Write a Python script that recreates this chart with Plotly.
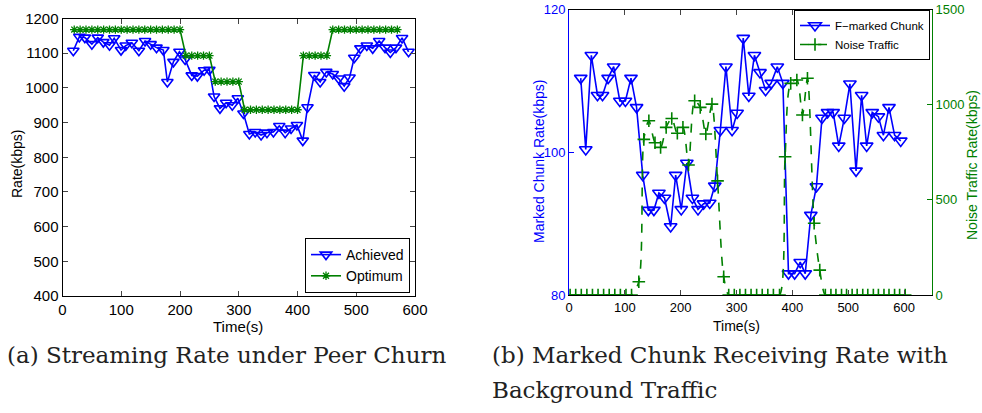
import plotly.graph_objects as go

# ---------------- data: (a) Streaming rate under peer churn ----------------
achieved_time = [18.4, 28.6, 38, 50, 60, 69.5, 80, 88, 99.6, 107.6,
                 118, 130, 140.5, 150, 160, 171.7, 178.5, 188.8, 199, 208.7,
                 220, 229.6, 241, 250, 258, 268, 278.5, 289, 298.4, 308,
                 318, 328, 338, 348, 359, 369, 379, 389, 399, 409,
                 417, 428.5, 438.6, 449, 460, 470, 479.5, 488.6, 496.6, 507,
                 518, 528, 539, 549, 558, 567.6, 578, 589]
achieved_rate = [1107, 1147, 1145, 1126, 1145, 1132, 1123, 1143, 1109, 1122,
                 1130, 1107, 1135, 1126, 1116, 1109, 1017, 1075, 1104, 1082,
                 1036, 1034, 1051, 1052, 975, 941, 957, 950, 970, 926,
                 867, 873, 864, 871, 873, 890, 871, 883, 893, 848,
                 944, 1037, 1017, 1046, 1040, 1027, 1005, 1030, 1087, 1114,
                 1122, 1114, 1135, 1116, 1102, 1116, 1144, 1104]

optimum_time = [20, 30, 40, 50, 60, 70, 80, 90, 100, 110, 120, 130, 140, 150, 160, 170, 180, 190, 200,
                210, 220, 230, 240, 250,
                260, 270, 280, 290, 300,
                310, 320, 330, 340, 350, 360, 370, 380, 390, 400,
                410, 420, 430, 440, 450,
                460, 470, 480, 490, 500, 510, 520, 530, 540, 550, 560, 570]
optimum_rate = [1168, 1168, 1168, 1168, 1168, 1168, 1168, 1168, 1168, 1168, 1168, 1168, 1168, 1168, 1168, 1168, 1168, 1168, 1168,
                1093, 1093, 1093, 1093, 1093,
                1018, 1018, 1018, 1018, 1018,
                937, 937, 937, 937, 937, 937, 937, 937, 937, 937,
                1093, 1093, 1093, 1093, 1093,
                1168, 1168, 1168, 1168, 1168, 1168, 1168, 1168, 1168, 1168, 1168, 1168]

# ---------------- data: (b) Marked chunk rate with background traffic ----------------
chunk_time = [21, 30, 40, 51, 60, 70, 80, 91, 101, 111,
              121, 132, 142, 152, 161, 171, 182, 191, 201, 211,
              221, 231, 241, 252, 261, 271, 281, 292, 301, 312,
              322, 332, 342, 352, 362, 373, 383, 393, 404, 414,
              423, 433, 443, 453, 463, 473, 483, 493, 503, 514,
              524, 533, 543, 554, 563, 573, 583, 594]
chunk_rate = [110.4, 100.4, 113.6, 108.0, 108.0, 110.4, 112.0, 107.2, 107.2, 110.4,
              106.3, 96.8, 91.9, 91.9, 94.3, 93.6, 89.6, 96.8, 92.0, 98.5,
              93.6, 92.0, 92.8, 92.9, 95.3, 103.1, 112.0, 103.1, 105.5, 116.0,
              107.9, 113.6, 111.2, 108.7, 109.7, 112.0, 109.7, 83.0, 83.0, 84.6,
              83.0, 91.2, 95.2, 104.8, 105.6, 105.6, 100.9, 104.8, 109.6, 97.4,
              108.0, 100.9, 105.6, 105.0, 102.4, 106.3, 102.4, 101.6]

noise_time = [2, 12, 22, 32, 42, 52, 62, 72, 82, 92, 102, 112,
              125, 134, 143, 154, 164, 174, 184, 194, 204, 214, 225, 235, 245, 256, 266, 277,
              286, 296, 306, 316, 326, 336, 346, 356, 366, 377,
              387, 397, 408, 418, 427, 439, 449,
              459, 469, 478, 488, 497, 507, 516, 526, 535, 545, 554, 564, 573, 583, 592, 602]
noise_rate = [0, 0, 0, 0, 0, 0, 0, 0, 0, 0, 0, 0,
              70, 818, 916, 800, 776, 881, 928, 850, 881, 683, 1021, 986, 846, 1003, 600, 96,
              0, 0, 0, 0, 0, 0, 0, 0, 0, 0,
              727, 1112, 1130, 946, 1139, 377, 131,
              0, 0, 0, 0, 0, 0, 0, 0, 0, 0, 0, 0, 0, 0, 0, 0]

x_ticks = [0, 100, 200, 300, 400, 500, 600]
rate_ticks = [400, 500, 600, 700, 800, 900, 1000, 1100, 1200]
chunk_ticks = [80, 100, 120]
noise_ticks = [0, 500, 1000, 1500]

# ---------------- layout helpers ----------------
W, H = 982, 413
def px(x):
    return x / W
def py(y):
    return 1 - y / H

BLUE = "#0000ff"
GREEN = "#008000"
SANS = "Liberation Sans, Arial, sans-serif"
SERIF = "DejaVu Serif, serif"

fig = go.Figure()

fig.add_trace(go.Scatter(
    x=achieved_time, y=achieved_rate, name="Achieved", mode="lines+markers",
    line=dict(color=BLUE, width=1.6),
    marker=dict(symbol="triangle-down-open", size=10, color=BLUE, line=dict(width=1.6, color=BLUE)),
    xaxis="x", yaxis="y", legend="legend"))
fig.add_trace(go.Scatter(
    x=optimum_time, y=optimum_rate, name="Optimum", mode="lines+markers",
    line=dict(color=GREEN, width=1.6),
    marker=dict(symbol="asterisk-open", size=7, color=GREEN, line=dict(width=1.3, color=GREEN)),
    xaxis="x", yaxis="y", legend="legend"))

fig.add_trace(go.Scatter(
    x=chunk_time, y=chunk_rate, name="F\u2212marked Chunk", mode="lines+markers",
    line=dict(color=BLUE, width=1.6),
    marker=dict(symbol="triangle-down-open", size=11, color=BLUE, line=dict(width=1.6, color=BLUE)),
    xaxis="x2", yaxis="y2", legend="legend2"))
fig.add_trace(go.Scatter(
    x=noise_time, y=noise_rate, name="Noise Traffic", mode="lines+markers",
    line=dict(color=GREEN, width=1.6, dash="dash", shape="spline", smoothing=0.8),
    marker=dict(symbol="cross-thin-open", size=9, color=GREEN, line=dict(width=1.6, color=GREEN)),
    xaxis="x2", yaxis="y3", legend="legend2"))

common_axis = dict(showgrid=False, zeroline=False, showline=True, ticks="inside", ticklen=5,
                   tickwidth=1, linewidth=1, automargin=False)

fig.update_layout(
    width=W, height=H, autosize=False,
    margin=dict(l=0, r=0, t=0, b=0, pad=0, autoexpand=False),
    paper_bgcolor="white", plot_bgcolor="white",
    font=dict(family=SANS, color="black"),
    xaxis=dict(domain=[px(62.5), px(415)], range=[0, 600], tickvals=x_ticks, anchor="y",
               linecolor="black", mirror="ticks", tickfont=dict(size=15, color="black"), **common_axis),
    yaxis=dict(domain=[py(296), py(18.5)], range=[400, 1200], tickvals=rate_ticks, anchor="x",
               linecolor="black", mirror="ticks", tickfont=dict(size=15, color="black"), **common_axis),
    xaxis2=dict(domain=[px(569), px(932)], range=[0, 650], tickvals=x_ticks, anchor="y2",
                linecolor="black", mirror="ticks", tickfont=dict(size=13, color="black"), **common_axis),
    yaxis2=dict(domain=[py(295), py(9.6)], range=[80, 120], tickvals=chunk_ticks, anchor="x2",
                linecolor=BLUE, tickcolor=BLUE, tickfont=dict(size=13, color=BLUE), **common_axis),
    yaxis3=dict(range=[0, 1500], tickvals=noise_ticks, anchor="x2", overlaying="y2", side="right",
                linecolor=GREEN, tickcolor=GREEN, tickfont=dict(size=13, color=GREEN), **common_axis),
    legend=dict(x=px(410), y=py(293), xanchor="right", yanchor="bottom",
                bgcolor="white", bordercolor="black", borderwidth=1,
                font=dict(size=14, color="black", family=SANS), itemwidth=30, tracegroupgap=0),
    legend2=dict(x=px(930), y=py(10), xanchor="right", yanchor="top",
                 bgcolor="white", bordercolor="black", borderwidth=1,
                 font=dict(size=11.5, color="black", family=SANS), itemwidth=30, tracegroupgap=0),
    showlegend=True,
)

annotations = [
    dict(text="Time(s)", x=px(238), y=py(326), font=dict(size=15, color="black", family=SANS)),
    dict(text="Rate(kbps)", x=px(17), y=py(164), textangle=-90, font=dict(size=14, color="black", family=SANS)),
    dict(text="Time(s)", x=px(736), y=py(326), font=dict(size=14, color="black", family=SANS)),
    dict(text="Marked Chunk Rate(kbps)", x=px(539), y=py(162), textangle=-90,
         font=dict(size=14, color=BLUE, family=SANS)),
    dict(text="Noise Traffic Rate(kbps)", x=px(972), y=py(165), textangle=-90,
         font=dict(size=14, color=GREEN, family=SANS)),
    dict(text="(a) Streaming Rate under Peer Churn", x=px(5), y=py(355), xanchor="left",
         font=dict(size=23, color="#222222", family=SERIF)),
    dict(text="(b) Marked Chunk Receiving Rate with", x=px(490), y=py(355), xanchor="left",
         font=dict(size=23, color="#222222", family=SERIF)),
    dict(text="Background Traffic", x=px(490), y=py(390), xanchor="left",
         font=dict(size=23, color="#222222", family=SERIF)),
]
for a in annotations:
    a.setdefault("xanchor", "center")
    a.update(xref="paper", yref="paper", yanchor="middle", showarrow=False)
fig.update_layout(annotations=annotations)

fig.write_html("out.html",
               config={"displayModeBar": False},
               post_script="document.body.style.margin='0';document.body.style.overflow='hidden';")
